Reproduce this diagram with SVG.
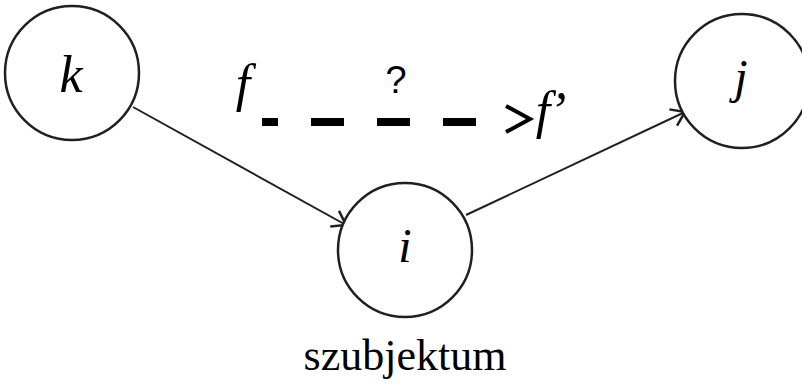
<svg xmlns="http://www.w3.org/2000/svg" width="802" height="384" viewBox="0 0 802 384">
<style>
.node{fill:#fff;stroke:#231f20;stroke-width:2.5}
.lbl{font-family:"Liberation Serif",serif;font-style:italic;fill:#000;text-anchor:middle}
.edge{stroke:#231f20;stroke-width:2;fill:none}
</style>
<defs>
<marker id="arr" viewBox="0 0 24 24" refX="21" refY="12" markerWidth="24" markerHeight="24" markerUnits="userSpaceOnUse" orient="auto">
<path d="M8,3 L21,12 L8,21" fill="none" stroke="#231f20" stroke-width="2.5"/>
</marker>
</defs>
<rect width="802" height="384" fill="#fff"/>
<g id="connectors">
<line class="edge" x1="133" y1="107" x2="346" y2="225" marker-end="url(#arr)"/>
<line class="edge" x1="466" y1="215" x2="685" y2="112" marker-end="url(#arr)"/>
<line x1="262" y1="122" x2="502" y2="122" stroke="#000" stroke-width="8" stroke-dasharray="33 33" stroke-dashoffset="17"/>
<path d="M506,106 L530,119 L506,132" fill="none" stroke="#000" stroke-width="4"/>
</g>
<g id="node-k">
<circle class="node" cx="72" cy="73" r="67"/>
<text class="lbl" x="71" y="92" font-size="52">k</text>
</g>
<g id="node-i">
<circle class="node" cx="405" cy="250" r="67"/>
<text class="lbl" x="405" y="262" font-size="48">i</text>
</g>
<g id="node-j">
<circle class="node" cx="742" cy="81" r="67"/>
<text class="lbl" x="741" y="93" font-size="48">j</text>
</g>
<g id="labels">
<text class="lbl" x="243" y="101" font-size="52">f</text>
<text x="396" y="93" font-size="38" font-family="Liberation Sans,sans-serif" text-anchor="middle">?</text>
<text class="lbl" x="548" y="128" font-size="52" letter-spacing="-6">f’</text>
<text x="405" y="370" font-size="44" font-family="Liberation Serif,serif" text-anchor="middle">szubjektum</text>
</g>
</svg>
